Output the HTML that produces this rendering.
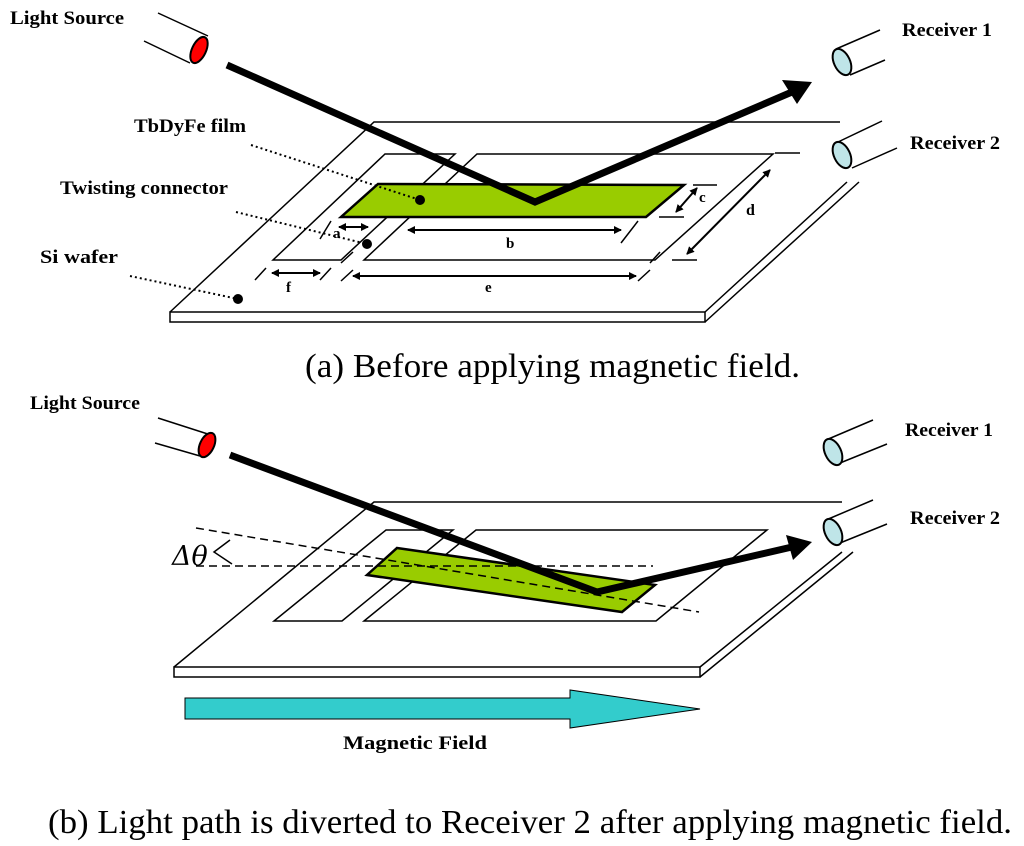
<!DOCTYPE html>
<html><head><meta charset="utf-8"><style>
html,body{margin:0;padding:0;background:#fff}
svg{display:block}
.l{font-family:"Liberation Serif",serif;font-weight:bold;font-size:19px}
.c{font-family:"Liberation Serif",serif;font-size:34px}
</style></head><body>
<svg width="1024" height="846" viewBox="0 0 1024 846" xmlns="http://www.w3.org/2000/svg">
<defs>
<marker id="ah" markerWidth="8" markerHeight="8" refX="7" refY="4" orient="auto-start-reverse" markerUnits="userSpaceOnUse"><path d="M0,0 L8,4 L0,8 Z" fill="#000"/></marker>
</defs>
<g fill="none" stroke="#000" stroke-width="1.5">
<path d="M170,312 L374,122 L840,122"/>
<rect x="170" y="312" width="535" height="10" fill="#fff"/>
<path d="M705,312 L847,182 M705,322 L859,182"/>
<path d="M385,154 L455,154 L341,260 L273,260 Z"/>
<path d="M477,154 L773,154 L655,260 L364,260 Z"/>
<path d="M378,184 L684,185 L646,217 L341,217 Z" fill="#99CC00" stroke-width="2.5"/>
<g stroke-width="2">
<path d="M339,227 L368,227" marker-start="url(#ah)" marker-end="url(#ah)"/>
<path d="M408,230 L621,230" marker-start="url(#ah)" marker-end="url(#ah)"/>
<path d="M676,212 L697,188" marker-start="url(#ah)" marker-end="url(#ah)"/>
<path d="M687,254 L770,170" marker-start="url(#ah)" marker-end="url(#ah)"/>
<path d="M353,276 L636,276" marker-start="url(#ah)" marker-end="url(#ah)"/>
<path d="M272,273 L320,273" marker-start="url(#ah)" marker-end="url(#ah)"/>
</g>
<path d="M320,239 L331,221 M621,243 L638,221 M693,185 L717,185 M659,217 L684,217 M775,153 L800,153 M672,260 L697,260 M341,281 L353,270 M638,281 L650,270 M255,280 L266,268 M320,280 L331,268 M341,263 L353,252 M650,263 L660,252"/>
<g stroke-dasharray="2,3" stroke-width="2">
<path d="M251,145 L420,200"/><path d="M236,212 L367,244"/><path d="M130,276 L238,299"/>
</g>
<path d="M158,13 L208,36 M144,41 L190,63"/>
<ellipse cx="199" cy="50" rx="7" ry="14" transform="rotate(25 199 50)" fill="#FF0000" stroke-width="2"/>
<path d="M836,49 L880,30 M850,75 L885,60"/>
<ellipse cx="842" cy="62" rx="8" ry="14" transform="rotate(-25 842 62)" fill="#BFE5E8" stroke-width="2"/>
<path d="M838,142 L882,121 M852,168 L897,148"/>
<ellipse cx="842" cy="155" rx="8" ry="14" transform="rotate(-25 842 155)" fill="#BFE5E8" stroke-width="2"/>
<path d="M227,65 L535,202 L792,92" stroke-width="7"/>
<path d="M812,82 L782,80 L797,104 Z" fill="#000" stroke="none"/>

<path d="M174,667 L374,502 L842,502"/>
<rect x="174" y="667" width="526" height="10" fill="#fff"/>
<path d="M700,667 L842,552 M700,677 L853,552"/>
<path d="M386,530 L453,530 L342,621 L274,621 Z"/>
<path d="M476,530 L767,530 L656,621 L364,621 Z"/>
<path d="M397,548 L655,585 L622,612 L367,575 Z" fill="#99CC00" stroke-width="2.5"/>
<g stroke-dasharray="8,5" stroke-width="1.5">
<path d="M196,566 L653,566"/><path d="M196,528 L699,612"/>
</g>
<path d="M158,418 L214,436 M155,443 L200,456"/>
<ellipse cx="207" cy="445" rx="7" ry="13" transform="rotate(25 207 445)" fill="#FF0000" stroke-width="2"/>
<path d="M826,440 L873,420 M840,463 L887,444"/>
<ellipse cx="833" cy="452" rx="8" ry="14" transform="rotate(-25 833 452)" fill="#BFE5E8" stroke-width="2"/>
<path d="M826,520 L873,500 M840,543 L887,524"/>
<ellipse cx="833" cy="532" rx="8" ry="14" transform="rotate(-25 833 532)" fill="#BFE5E8" stroke-width="2"/>
<path d="M230,455 L597,592 L792,547" stroke-width="7"/>
<path d="M812,542 L786,535 L793,560 Z" fill="#000" stroke="none"/>
<path d="M185,698 L570,698 L570,690 L700,709 L570,728 L570,719 L185,719 Z" fill="#33CCCC" stroke-width="1"/>
</g>
<circle cx="420" cy="200" r="5" fill="#000"/>
<circle cx="367" cy="244" r="5" fill="#000"/>
<circle cx="238" cy="299" r="5" fill="#000"/>
<text x="172" y="565" font-family="'DejaVu Serif',serif" font-size="27" font-style="italic">Δθ</text>
<path d="M230,540 L214,552 L232,564" fill="none" stroke="#000" stroke-width="1.5"/>
<g class="l">
<text x="10" y="24" textLength="114" lengthAdjust="spacingAndGlyphs">Light Source</text>
<text x="902" y="36" textLength="90" lengthAdjust="spacingAndGlyphs">Receiver 1</text>
<text x="910" y="149" textLength="90" lengthAdjust="spacingAndGlyphs">Receiver 2</text>
<text x="134" y="132" textLength="112" lengthAdjust="spacingAndGlyphs">TbDyFe film</text>
<text x="60" y="194" textLength="168" lengthAdjust="spacingAndGlyphs">Twisting connector</text>
<text x="40" y="263" textLength="78" lengthAdjust="spacingAndGlyphs">Si wafer</text>
<text x="333" y="238" font-size="15">a</text>
<text x="506" y="248" font-size="15">b</text>
<text x="699" y="202" font-size="15">c</text>
<text x="746" y="215" font-size="16">d</text>
<text x="485" y="292" font-size="15">e</text>
<text x="286" y="292" font-size="15">f</text>
<text x="30" y="409" textLength="110" lengthAdjust="spacingAndGlyphs">Light Source</text>
<text x="905" y="436" textLength="88" lengthAdjust="spacingAndGlyphs">Receiver 1</text>
<text x="910" y="524" textLength="90" lengthAdjust="spacingAndGlyphs">Receiver 2</text>
<text x="343" y="749" textLength="144" lengthAdjust="spacingAndGlyphs">Magnetic Field</text>
</g>
<text class="c" x="305" y="377" textLength="495" lengthAdjust="spacingAndGlyphs">(a) Before applying magnetic field.</text>
<text class="c" x="48" y="833" textLength="964" lengthAdjust="spacingAndGlyphs">(b) Light path is diverted to Receiver 2 after applying magnetic field.</text>
</svg>
</body></html>
